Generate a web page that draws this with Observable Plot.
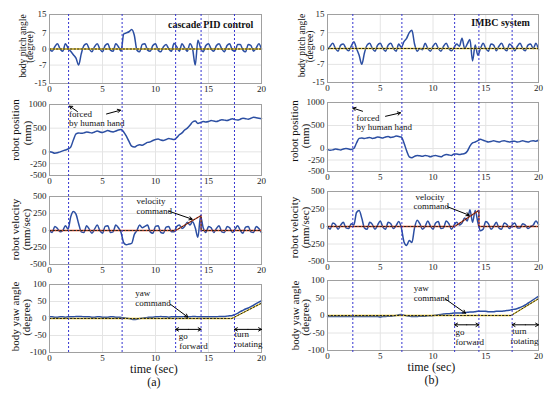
<!DOCTYPE html>
<html><head><meta charset="utf-8">
<script src="https://cdn.jsdelivr.net/npm/d3@7"></script>
<script src="https://cdn.jsdelivr.net/npm/@observablehq/plot@0.6"></script>
<style>
body{margin:0;background:#fff;}
#root{position:relative;width:550px;height:394px;overflow:hidden;background:#fff;}
#root svg{position:absolute;}
</style></head><body><div id="root"></div>
<script>
// ---------- data ----------
const TIME_STEP = 0.25; // seconds between samples, t = 0 .. 20
const xTicks = [0, 5, 10, 15, 20];
const pitchTicks = [-15, -7, 0, 7, 15];
const posTicks = [-500, -250, 0, 500, 1000];
const velTicks = [-500, -250, 0, 250, 500];
const yawTicks = [-100, -50, 0, 50, 100];

const eventsPID = [1.8, 6.85, 11.9, 14.3, 17.45];
const eventsIMBC = [2.4, 7.05, 12.05, 14.35, 17.5];

const pitchPID = [
  0,-1,1,2.3,0,-1,2.3,0.5,
  -1,-2.5,-4,-7,-2,1.5,2.3,0,
  -1.2,1,2.3,0,-1.2,1.5,2.3,-0.5,
  -1,2.3,1,-1,6.5,7,7.5,8.5,
  6,-0.5,-1.2,2,2.3,-0.5,-1,1.5,
  2.3,-0.5,-1.2,1,2,0,-1,2.5,
  1,-1,2.3,0.5,-1,2.3,0,-7,
  3.8,0.5,-1.2,1.5,2.3,0,-1,1.5,
  2.3,0,-1.2,1.5,2.3,-0.5,-1,2,
  2,-0.5,-1.2,2,1.5,-1,0.5,2.3,
  0];
const pitchIMBC = [
  -0.5,1,2.3,0,-1.2,1.5,2,0,
  -1,1,3,0,-3,-7,-2,1.5,
  2.3,0,-1.2,1.5,2.3,0,-1.2,1.5,
  2.3,0,-1.2,2,0.5,3,4.5,7,
  8,2,-1.2,0,-0.5,2.3,0,-1.2,
  1,2.3,0,-1.2,1,2.3,0,-1,
  0.5,2,1,4.5,0,2,4,-5.5,
  1.5,-3,0,2.3,0,-1.2,2,1.5,
  -1,1,2.3,0,-1,2,1,-1,
  1,2.3,0,-1,1.5,2,0,2.3,
  -0.5];
const posPID = [
  0,-10,-30,-20,0,20,40,60,
  100,250,380,400,390,400,420,410,
  400,420,440,420,410,430,450,430,
  420,440,460,470,420,330,220,120,
  100,130,150,140,170,200,210,240,
  260,270,250,240,260,280,270,260,
  300,360,400,460,500,560,630,650,
  600,620,640,630,640,660,650,640,
  660,680,670,660,680,700,680,670,
  690,710,700,690,710,730,720,710,
  700];
const posIMBC = [
  -20,-40,-30,-10,-20,-30,-10,0,
  -10,-20,0,120,220,230,220,230,
  240,220,230,250,240,230,250,260,
  240,250,270,260,250,120,-50,-180,
  -200,-170,-150,-160,-170,-150,-160,-180,
  -160,-150,-170,-180,-150,-130,-140,-150,
  -120,-120,-130,-120,-110,-60,50,120,
  140,170,200,180,160,140,150,170,
  150,140,160,170,150,140,160,160,
  140,150,170,150,140,160,170,160,
  180];
const velPID = [
  0,-30,60,30,-20,0,70,20,
  200,280,240,100,-20,-30,70,20,
  -40,20,80,0,-40,60,70,-30,
  -20,80,40,-30,-180,-210,-200,-190,
  -60,0,80,40,60,80,-20,-40,
  60,70,-30,-40,50,60,-20,-20,
  60,80,30,60,120,80,130,40,
  -100,210,40,-30,60,40,-30,30,
  70,-20,-30,60,40,-30,20,70,
  0,-40,50,60,-20,-30,60,30,
  -30];
const velIMBC = [
  0,-40,50,30,-40,20,60,-20,
  -30,40,20,200,230,120,-20,-40,
  60,30,-40,20,80,-10,-40,60,
  40,-30,10,70,-20,-220,-270,-200,
  -230,-20,90,40,-40,0,80,10,
  -40,50,70,-30,-20,80,40,-40,
  20,60,20,50,120,80,240,60,
  230,60,-60,-40,70,40,-40,0,
  60,-20,-40,50,30,-30,20,50,
  -20,-20,40,20,-30,0,20,80,
  30];
const yawPID = [
  5,5,4,4,5,5,4,5,
  5,5,6,6,6,5,5,5,
  4,4,5,5,4,4,4,5,
  5,4,4,3,2,1,0,-2,
  -3,-2,0,1,2,3,4,4,
  5,5,6,5,5,4,5,5,
  5,5,5,6,5,5,6,6,
  5,5,5,5,5,5,5,5,
  6,6,6,7,8,9,12,15,
  20,24,28,31,35,39,44,48,
  52];
const yawIMBC = [
  -3,-3,-3,-3,-3,-3,-3,-3,
  -3,-3,-3,-3,-3,-3,-3,-3,
  -3,-3,-3,-3,-4,-3,-3,-2,
  -2,-1,0,2,3,1,-1,-2,
  -3,-3,-3,-2,-2,-2,-1,-1,
  0,1,2,3,4,5,5,6,
  7,7,7,7,8,9,10,10,
  11,12,12,12,12,11,11,11,
  12,12,12,13,14,15,17,18,
  20,23,26,30,35,40,45,50,
  55];

// commands (time, value)
const pitchCmdT = [0, 20], pitchCmdV = [0, 0];
const velCmdPIDT = [0, 11.9, 14.3, 14.3, 20], velCmdPIDV = [0, 0, 220, 0, 0];
const velCmdIMBCT = [0, 12.05, 14.35, 14.35, 20], velCmdIMBCV = [0, 0, 230, 0, 0];
const yawCmdPIDT = [0, 17.2, 20], yawCmdPIDV = [0, 0, 45];
const yawCmdIMBCT = [0, 17.4, 20], yawCmdIMBCV = [0, 0, 48];

// ---------- drawing ----------
const FONT = "'Liberation Serif','Times New Roman',serif";
const BLUE = "#2b4ea2";
const root = document.getElementById("root");
const COLS = {
  a: {left: 0, ml: 49, mr: 14},
  b: {left: 275, ml: 52, mr: 12}
};
const series = vals => vals.map((v, i) => ({t: i * TIME_STEP, v}));
const cmd = (ts, vs) => ts.map((t, i) => ({t, v: vs[i]}));

function cmdMarks(data, color) {
  return [
    Plot.line(data, {x: "t", y: "v", stroke: color, strokeWidth: 1.3}),
    Plot.line(data, {x: "t", y: "v", stroke: "#222", strokeWidth: 1, strokeDasharray: "1.5,2"})
  ];
}
function texts(list, opts = {}) {
  return Plot.text(list, {x: "x", y: "y", text: "s", textAnchor: "start", lineAnchor: "middle", fontSize: 9, fill: "#111", ...opts});
}
function arrows(list) {
  return Plot.arrow(list, {x1: "x1", y1: "y1", x2: "x2", y2: "y2", stroke: "#000", strokeWidth: 1, headLength: 5});
}
function dbl(xa, xb, y) {
  const m = (xa + xb) / 2;
  return arrows([{x1: m, y1: y, x2: xa, y2: y}, {x1: m, y1: y, x2: xb, y2: y}]);
}

function panel(cfg) {
  const mt = 6, mb = cfg.mb ?? 16;
  const H = cfg.bottom - cfg.top;
  const svg = Plot.plot({
    width: 275, height: H + mt + mb,
    marginLeft: cfg.col.ml, marginRight: cfg.col.mr, marginTop: mt, marginBottom: mb,
    style: {background: "transparent", overflow: "visible", fontFamily: FONT, fontSize: "9px", color: "#222"},
    x: {domain: [0, 20], ticks: xTicks, tickSize: 0, tickPadding: 2, label: null, tickFormat: d => String(d)},
    y: {domain: cfg.domain, ticks: cfg.ticks, tickSize: 0, tickPadding: 3, label: null, tickFormat: d => String(d)},
    marks: [
      Plot.ruleX(xTicks, {stroke: "#e4e4e4"}),
      Plot.ruleY(cfg.ticks, {stroke: "#e4e4e4"}),
      Plot.line(series(cfg.data), {x: "t", y: "v", stroke: BLUE, strokeWidth: 1.5, curve: "monotone-x"}),
      ...cfg.cmd,
      Plot.frame({stroke: "#a0a0a0"}),
      Plot.text([cfg.yl[0]], {frameAnchor: "left", textAnchor: "middle", lineAnchor: "middle", rotate: -90, dx: cfg.yldx[0], dy: cfg.yldy[0], fontSize: cfg.ylfs, fill: "#111"}),
      Plot.text([cfg.yl[1]], {frameAnchor: "left", textAnchor: "middle", lineAnchor: "middle", rotate: -90, dx: cfg.yldx[1], dy: cfg.yldy[1], fontSize: cfg.ylfs, fill: "#111"}),
      ...(cfg.extra || [])
    ]
  });
  svg.style.left = cfg.col.left + "px";
  svg.style.top = (cfg.top - mt) + "px";
  root.appendChild(svg);
}

function xlabel(tag) {
  return [
    Plot.text([{t: 9.85, s: "time (sec)"}], {x: "t", text: "s", frameAnchor: "bottom", textAnchor: "middle", lineAnchor: "middle", dy: 17, fontSize: 12, fill: "#111"}),
    Plot.text([{t: 9.85, s: tag}], {x: "t", text: "s", frameAnchor: "bottom", textAnchor: "middle", lineAnchor: "middle", dy: 30, fontSize: 12, fill: "#111"})
  ];
}

// ---- column (a): cascade PID control ----
panel({col: COLS.a, top: 14, bottom: 83, domain: [-15, 15], ticks: pitchTicks, data: pitchPID,
  cmd: cmdMarks(cmd(pitchCmdT, pitchCmdV), "#e0c020"),
  yl: ["body pitch angle", "(degree)"], yldx: [-27, -20], yldy: [-3, -2], ylfs: 9.5,
  extra: [texts([{x: 15.2, y: 10.6, s: "cascade PID control"}], {textAnchor: "middle", fontWeight: "bold", fontSize: 10})]});
panel({col: COLS.a, top: 104, bottom: 175, domain: [-500, 1000], ticks: posTicks, data: posPID, cmd: [],
  yl: ["robot position", "(mm)"], yldx: [-34, -22.5], yldy: [-10, -7], ylfs: 11,
  extra: [texts([{x: 1.85, y: 800, s: "forced"}, {x: 1.85, y: 600, s: "by human hand"}]),
    arrows([{x1: 2.64, y1: 850, x2: 1.89, y2: 965}, {x1: 5.38, y1: 800, x2: 6.7, y2: 880}])]});
panel({col: COLS.a, top: 196, bottom: 264, domain: [-500, 500], ticks: velTicks, data: velPID,
  cmd: cmdMarks(cmd(velCmdPIDT, velCmdPIDV), "#d9441c"),
  yl: ["robot velocity", "(mm/sec)"], yldx: [-34, -23], yldy: [-1, -1], ylfs: 11,
  extra: [texts([{x: 8.2, y: 430, s: "velocity"}, {x: 8.2, y: 290, s: "command"}]),
    arrows([{x1: 11.25, y1: 285, x2: 13.46, y2: 166}])]});
panel({col: COLS.a, top: 284, bottom: 352, domain: [-100, 100], ticks: yawTicks, data: yawPID, mb: 40,
  cmd: cmdMarks(cmd(yawCmdPIDT, yawCmdPIDV), "#e0c020"),
  yl: ["body yaw angle", "(degree)"], yldx: [-34, -23], yldy: [-2, -1], ylfs: 11,
  extra: [texts([{x: 8.1, y: 76, s: "yaw"}, {x: 8.1, y: 46, s: "command"},
      {x: 12.2, y: -53, s: "go"}, {x: 12.25, y: -82, s: "forward"},
      {x: 17.45, y: -47, s: "turn"}, {x: 17.45, y: -75, s: "rotating"}]),
    arrows([{x1: 11.4, y1: 42, x2: 13.05, y2: 4}]),
    dbl(11.9, 14.3, -32), dbl(17.45, 20, -32), ...xlabel("(a)")]});

// ---- column (b): IMBC system ----
panel({col: COLS.b, top: 14, bottom: 82, domain: [-15, 15], ticks: pitchTicks, data: pitchIMBC,
  cmd: cmdMarks(cmd(pitchCmdT, pitchCmdV), "#e0c020"),
  yl: ["body pitch angle", "(degree)"], yldx: [-26, -17.5], yldy: [-3, -2], ylfs: 9.5,
  extra: [texts([{x: 16.4, y: 11.2, s: "IMBC system"}], {textAnchor: "middle", fontWeight: "bold", fontSize: 10})]});
panel({col: COLS.b, top: 102, bottom: 171, domain: [-500, 1000], ticks: posTicks, data: posIMBC, cmd: [],
  yl: ["robot position", "(mm)"], yldx: [-33, -22], yldy: [-6, -1], ylfs: 11,
  extra: [texts([{x: 2.75, y: 670, s: "forced"}, {x: 2.75, y: 470, s: "by human hand"}]),
    arrows([{x1: 3.32, y1: 810, x2: 2.4, y2: 880}, {x1: 5.5, y1: 700, x2: 6.92, y2: 775}])]});
panel({col: COLS.b, top: 191, bottom: 261, domain: [-500, 500], ticks: velTicks, data: velIMBC,
  cmd: cmdMarks(cmd(velCmdIMBCT, velCmdIMBCV), "#d9441c"),
  yl: ["robot velocity", "(mm/sec)"], yldx: [-33, -22], yldy: [1, 1], ylfs: 11,
  extra: [texts([{x: 8.35, y: 420, s: "velocity"}, {x: 8.15, y: 285, s: "command"}]),
    arrows([{x1: 11.37, y1: 282, x2: 13.43, y2: 161}])]});
panel({col: COLS.b, top: 280, bottom: 350, domain: [-100, 100], ticks: yawTicks, data: yawIMBC, mb: 40,
  cmd: cmdMarks(cmd(yawCmdIMBCT, yawCmdIMBCV), "#e0c020"),
  yl: ["body yaw angle", "(degree)"], yldx: [-32, -22], yldy: [0, 2], ylfs: 11,
  extra: [texts([{x: 8.18, y: 78, s: "yaw"}, {x: 8.18, y: 50, s: "command"},
      {x: 12.13, y: -48, s: "go"}, {x: 12.13, y: -75, s: "forward"},
      {x: 17.5, y: -46, s: "turn"}, {x: 17.35, y: -74, s: "rotating"}]),
    arrows([{x1: 11.18, y1: 47, x2: 13.08, y2: 6.6}]),
    dbl(12.05, 14.35, -26.6), dbl(17.5, 20, -26.6), ...xlabel("(b)")]});

// ---- dashed event lines spanning each column ----
function events(col, times) {
  const svg = Plot.plot({
    width: 275, height: 338, marginLeft: col.ml, marginRight: col.mr, marginTop: 0, marginBottom: 0,
    style: {background: "transparent", overflow: "visible"},
    x: {domain: [0, 20], axis: null}, y: {domain: [0, 1], axis: null},
    marks: [Plot.ruleX(times, {stroke: "#3535d0", strokeWidth: 1, strokeDasharray: "2,2"})]
  });
  svg.style.left = col.left + "px";
  svg.style.top = "14px";
  svg.style.pointerEvents = "none";
  root.appendChild(svg);
}
events(COLS.a, eventsPID);
events(COLS.b, eventsIMBC);
</script></body></html>
